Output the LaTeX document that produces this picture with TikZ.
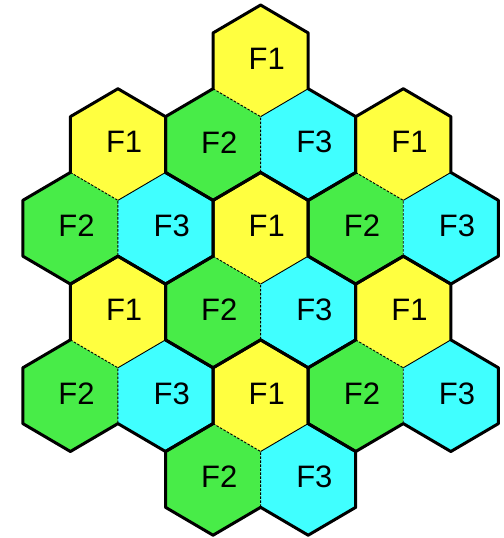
\documentclass[tikz,border=0pt]{standalone}
\usepackage{xcolor}
\usepackage{tikz}
\usepackage{fontspec}
\setmainfont{Liberation Sans}
\definecolor{cellyellow}{HTML}{FFFF40}
\definecolor{cellgreen}{HTML}{48EC48}
\definecolor{cellcyan}{HTML}{40FFFF}

\tikzset{
  cellborder/.style={line width=3pt, line join=round},
  insidedash/.style={line width=0.9pt, dash pattern=on 2.5pt off 1.5pt},
  insidesolid/.style={line width=0.9pt},
  cellname/.style={font=\fontsize{31}{31}\selectfont, inner sep=0pt}
}

\begin{document}
\begin{tikzpicture}[x=47.55pt,y=-27.9pt]
  \useasboundingbox (-0.48,-0.18) rectangle (10.1,19.1);
  % fills, inside edges and names, one cluster of three cells at a time
  \foreach \cx/\cy [count=\k] in {5/2, 2/5, 8/5, 5/8, 2/11, 8/11, 5/14} {
    \begin{scope}[shift={(\cx,\cy)}]
      \fill[cellyellow] (0,-2) -- (1,-1) -- (1,1) -- (0,2) -- (-1,1) -- (-1,-1) -- cycle;
      \fill[cellgreen] (-1,1) -- (0,2) -- (0,4) -- (-1,5) -- (-2,4) -- (-2,2) -- cycle;
      \fill[cellcyan] (1,1) -- (2,2) -- (2,4) -- (1,5) -- (0,4) -- (0,2) -- cycle;
      \draw[insidedash] (-1,1) -- (0,2) -- (0,4);
      \draw[insidesolid] (0,2) -- (1,1);
      \node[cellname] (fone-\k) at (0.13,-0.08) {F1};
      \node[cellname] (ftwo-\k) at (-0.87,2.92) {F2};
      \node[cellname] (fthree-\k) at (1.13,2.92) {F3};
    \end{scope}
  }
  % thick outline round each cluster
  \foreach \cx/\cy in {5/2, 2/5, 8/5, 5/8, 2/11, 8/11, 5/14} {
    \draw[cellborder,shift={(\cx,\cy)}] (0,-2) -- (1,-1) -- (1,1) -- (2,2) -- (2,4) -- (1,5)
      -- (0,4) -- (-1,5) -- (-2,4) -- (-2,2) -- (-1,1) -- (-1,-1) -- cycle;
  }
\end{tikzpicture}
\end{document}
